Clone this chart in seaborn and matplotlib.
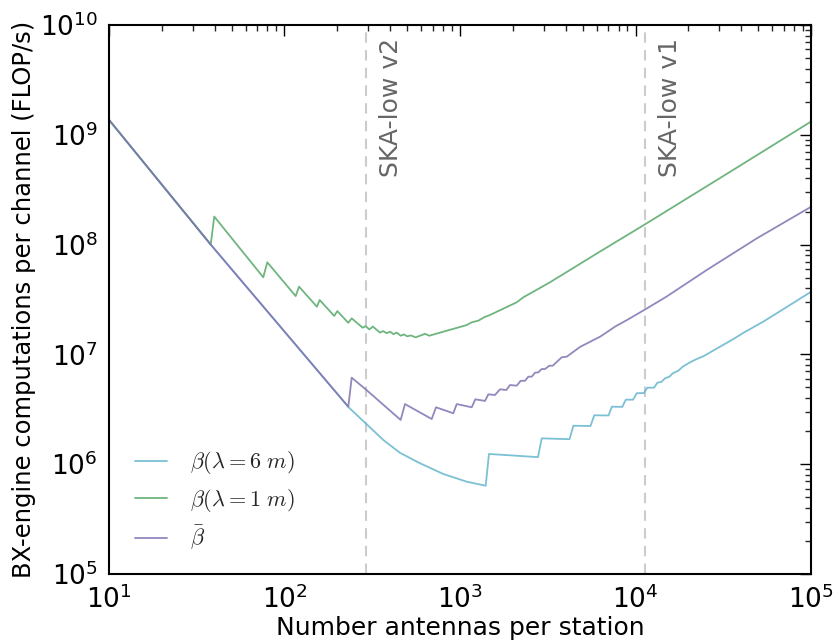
import numpy as np
import pandas as pd
import matplotlib
matplotlib.use("Agg")
import matplotlib.pyplot as plt
import seaborn as sns

# ------------------------------
# data (N antennas, FLOP/s per channel)
# ------------------------------
n_blue = [10, 38, 231, 366, 455, 592, 803, 1092, 1401, 1462, 2782, 2921, 4207,
          4424, 5542, 5820, 7019, 7330, 8400, 8810, 9680, 10160, 11170, 11680,
          12750, 13320, 14100, 14730, 15590, 16300, 17540, 18570, 20000, 21340,
          22800, 24300, 36100, 41100, 53500, 75900, 100000]
y_blue = [1.37e9, 1.0e8, 3.32e6, 1.66e6, 1.27e6, 1.02e6, 8.15e5, 6.93e5, 6.37e5,
          1.24e6, 1.16e6, 1.72e6, 1.69e6, 2.24e6, 2.23e6, 2.79e6, 2.78e6, 3.34e6,
          3.33e6, 3.87e6, 3.87e6, 4.43e6, 4.45e6, 4.98e6, 4.98e6, 5.52e6, 5.64e6,
          6.06e6, 6.27e6, 6.73e6, 7.11e6, 7.73e6, 8.30e6, 8.77e6, 9.21e6, 9.6e6,
          1.38e7, 1.57e7, 1.99e7, 2.82e7, 3.72e7]

n_green = [10, 38, 39.8, 75.7, 79.8, 115.8, 121, 153, 158.6, 192, 200, 231, 241.5,
           279, 290, 304, 319, 350, 365, 382, 400, 417, 436, 459, 480, 500, 524,
           559, 632, 668, 1092, 1166, 1272, 1388, 1450, 2104, 2295, 3258, 6280,
           11330, 36100, 100000]
y_green = [1.37e9, 1.0e8, 1.80e8, 5.04e7, 6.90e7, 3.40e7, 4.14e7, 2.72e7, 3.13e7,
           2.24e7, 2.48e7, 1.94e7, 2.13e7, 1.75e7, 1.81e7, 1.69e7, 1.79e7, 1.58e7,
           1.63e7, 1.56e7, 1.61e7, 1.53e7, 1.58e7, 1.48e7, 1.52e7, 1.46e7, 1.49e7,
           1.43e7, 1.54e7, 1.48e7, 1.85e7, 1.96e7, 2.03e7, 2.2e7, 2.25e7, 2.98e7,
           3.31e7, 4.54e7, 8.65e7, 1.53e8, 4.8e8, 1.32e9]

n_mean = [10, 38, 231, 241.5, 291, 459, 486, 690, 730, 916, 958, 1166, 1223, 1388,
          1450, 1582, 1690, 1836, 1927, 2104, 2218, 2346, 2450, 2562, 2675, 2793,
          2921, 3050, 3228, 3375, 3798, 4055, 4830, 6280, 6855, 7640, 8910, 11590,
          15060, 25450, 49100, 100000]
y_mean = [1.37e9, 1.0e8, 3.34e6, 6.14e6, 4.79e6, 2.53e6, 3.53e6, 2.58e6, 3.30e6,
          2.91e6, 3.53e6, 3.30e6, 3.90e6, 3.77e6, 4.33e6, 4.27e6, 4.81e6, 4.74e6,
          5.26e6, 5.19e6, 5.75e6, 5.75e6, 6.27e6, 6.27e6, 6.81e6, 6.87e6, 7.36e6,
          7.36e6, 7.89e6, 7.89e6, 9.41e6, 9.53e6, 1.17e7, 1.45e7, 1.59e7, 1.79e7,
          2.05e7, 2.62e7, 3.37e7, 5.87e7, 1.14e8, 2.21e8]

labels = [r"$\beta(\lambda=6\ m)$", r"$\beta(\lambda=1\ m)$", r"$\bar{\beta}$"]
colors = ["#64B5CD", "#55A868", "#8172B2"]

ska_n = [290, 11300]
ska_labels = ["SKA-low v2", "SKA-low v1"]

# ------------------------------
# style
# ------------------------------
sns.set_style("white")
plt.rcParams["font.family"] = ["DejaVu Sans"]
plt.rcParams["mathtext.fontset"] = "cm"
plt.rcParams["xtick.direction"] = "in"
plt.rcParams["ytick.direction"] = "in"
plt.rcParams["xtick.top"] = True
plt.rcParams["ytick.right"] = True

fig, ax = plt.subplots(figsize=(8.35, 6.41), dpi=100)
fig.subplots_adjust(left=0.1305, right=0.9713, top=0.961, bottom=0.1045)

series = [(n_blue, y_blue), (n_green, y_green), (n_mean, y_mean)]
for (n, y), lab, col in zip(series, labels, colors):
    df = pd.DataFrame({"N": n, "flops": y})
    sns.lineplot(data=df, x="N", y="flops", ax=ax, color=col, label=lab,
                 lw=1.3, alpha=0.85, estimator=None, sort=False)

for n, txt in zip(ska_n, ska_labels):
    ax.axvline(n, color="#cccccc", ls=(0, (5, 3.5)), lw=1.5, zorder=0)
    ax.text(n * 1.19, 10 ** 9.88, txt, rotation=90, va="top", ha="left",
            fontsize=18, color="#666666")

ax.set_xscale("log")
ax.set_yscale("log")
ax.set_xlim(10, 1e5)
ax.set_ylim(1e5, 1e10)
ax.set_xlabel("Number antennas per station", fontsize=18, labelpad=2, color="black")
ax.set_ylabel("BX-engine computations per channel (FLOP/s)", fontsize=17.5,
              labelpad=3, color="black")

ax.tick_params(which="major", length=8, width=1, labelsize=19, pad=8, colors="black")
ax.tick_params(which="minor", length=4, width=1)
for s in ax.spines.values():
    s.set_color("black")
    s.set_linewidth(1.5)

ax.legend(loc="lower left", bbox_to_anchor=(0.008, 0.003), frameon=False,
          fontsize=16, handlelength=1.45, handletextpad=1.05, labelspacing=0.47)

plt.savefig("out.png", dpi=100)
